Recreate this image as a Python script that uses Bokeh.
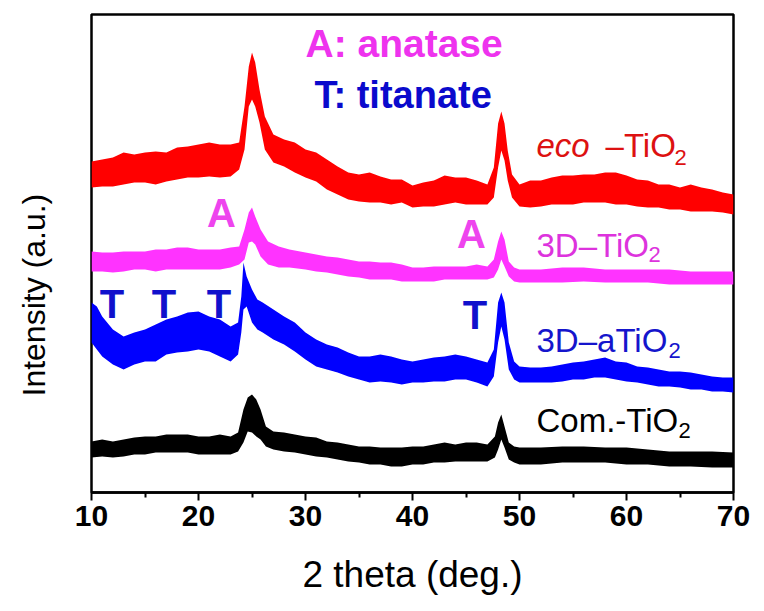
from bokeh.plotting import figure
from bokeh.models import Range1d, Label, FixedTicker, Title
from bokeh.embed import file_html
from bokeh.resources import INLINE

# ---- data (intensity in arbitrary units, traces stacked) ----
x_red = [10, 11, 12, 13, 14, 15, 16, 17, 18, 19, 20, 21, 22, 23,
         23.8, 24.3, 24.7, 25.0, 25.3, 25.7, 26.2,
         27, 28, 29, 30, 31, 32, 33, 34, 35, 36, 37, 38, 39, 40, 41, 42, 43, 44, 45, 46, 47,
         47.6, 48.0, 48.3, 48.6, 48.9, 49.3,
         50, 51, 52, 53, 54, 55, 56, 57, 58, 59, 60, 61, 62, 63, 64, 65, 66, 67, 68, 69, 70]
red_hi = [331, 333, 335, 340, 338, 340, 341, 340, 345, 346, 348, 350, 348, 348,
          350, 386, 426, 440, 430, 403, 376,
          358, 353, 350, 343, 340, 333, 326, 320, 318, 320, 316, 313, 313, 307, 310, 312, 317, 315, 315, 312, 308,
          325, 369, 381, 369, 342, 318,
          308, 312, 312, 315, 317, 317, 318, 318, 320, 320, 317, 313, 312, 308, 308, 305, 308, 305, 303, 300, 298]
red_lo = [305, 306, 306, 308, 310, 310, 308, 311, 313, 315, 315, 316, 315, 316,
          323, 343, 386, 393, 386, 370, 343,
          330, 326, 320, 315, 311, 303, 298, 293, 291, 290, 290, 288, 290, 285, 286, 286, 288, 290, 288, 288, 288,
          295, 325, 342, 332, 312, 295,
          286, 285, 286, 288, 288, 288, 290, 290, 290, 288, 288, 286, 285, 285, 283, 283, 281, 281, 281, 280, 278]

x_mag = [10, 11, 12, 13, 14, 15, 16, 17, 18, 19, 20, 21, 22, 23,
         23.8, 24.3, 24.7, 25.0, 25.3, 25.8, 26.5, 27.5, 28.5,
         30, 31, 32, 33, 34, 35, 36, 37, 38, 39, 40, 41, 42, 43, 44, 45, 46, 47,
         47.6, 48.0, 48.3, 48.6, 49.0, 49.5,
         50, 52, 54, 56, 58, 60, 62, 64, 66, 68, 70]
mag_hi = [241, 240, 240, 241, 241, 241, 243, 243, 245, 245, 243, 243, 243, 245,
          246, 263, 280, 285, 276, 263, 251, 246, 243,
          240, 238, 236, 235, 233, 231, 231, 230, 230, 228, 225, 225, 226, 226, 226, 226, 228, 226,
          233, 251, 261, 253, 231, 225,
          223, 223, 225, 225, 223, 223, 223, 223, 221, 221, 221]
mag_lo = [221, 221, 220, 221, 223, 223, 221, 223, 223, 223, 223, 223, 223, 225,
          228, 233, 250, 251, 248, 236, 228, 225, 225,
          223, 221, 220, 218, 216, 215, 213, 213, 213, 211, 211, 211, 211, 213, 213, 213, 213, 213,
          215, 223, 233, 226, 216, 211,
          210, 210, 210, 211, 210, 210, 210, 208, 208, 208, 208]

x_blue = [10, 10.5, 11, 12, 13, 14, 15, 16, 17, 18, 19, 20, 21, 22, 23,
          23.7, 24.0, 24.2, 24.5, 25.0, 25.5, 26,
          27, 28, 29, 30, 31, 32, 33, 34, 35, 36, 37, 38, 39, 40, 41, 42, 43, 44, 45, 46, 47,
          47.6, 48.0, 48.3, 48.6, 49.0, 49.5,
          50, 51, 52, 53, 54, 55, 56, 57, 58, 59, 60, 61, 62, 63, 64, 65, 66, 67, 68, 69, 70]
blue_hi = [190, 186, 176, 163, 156, 160, 163, 168, 173, 176, 180, 181, 176, 173, 166,
           170, 196, 230, 216, 203, 193, 190,
           183, 176, 170, 160, 153, 148, 145, 140, 136, 136, 138, 136, 133, 131, 133, 135, 136, 138, 136, 133, 130,
           143, 190, 200, 190, 150, 131,
           126, 125, 125, 126, 128, 130, 131, 133, 135, 131, 130, 126, 125, 123, 121, 121, 120, 118, 116, 115, 115]
blue_lo = [150, 143, 136, 128, 123, 128, 131, 131, 138, 140, 141, 143, 141, 136, 131,
           138, 160, 183, 186, 170, 163, 160,
           153, 148, 141, 133, 126, 123, 120, 116, 113, 110, 111, 110, 108, 110, 110, 111, 111, 113, 113, 110, 106,
           116, 150, 166, 153, 123, 113,
           110, 110, 110, 110, 111, 113, 113, 115, 115, 113, 111, 110, 108, 106, 106, 105, 103, 103, 101, 101, 100]

x_blk = [10, 11, 12, 13, 14, 15, 16, 17, 18, 19, 20, 21, 22, 23,
         23.7, 24.2, 24.6, 25.0, 25.4, 25.8, 26.3,
         27, 28, 29, 30, 31, 32, 33, 34, 35, 36, 37, 38, 39, 40, 41, 42, 43, 44, 45, 46, 47,
         47.7, 48.0, 48.3, 48.6, 49.0, 49.5,
         50, 52, 54, 56, 58, 60, 62, 64, 66, 68, 70]
blk_hi = [51, 53, 51, 53, 55, 56, 56, 58, 58, 58, 56, 56, 58, 56,
          60, 83, 95, 98, 93, 83, 66,
          61, 60, 58, 56, 55, 51, 50, 48, 46, 46, 45, 45, 45, 46, 46, 48, 50, 48, 50, 50, 48,
          56, 70, 78, 66, 50, 46,
          45, 45, 46, 46, 45, 45, 43, 41, 41, 41, 40]
blk_lo = [35, 36, 35, 36, 38, 38, 40, 40, 40, 40, 38, 38, 38, 38,
          41, 50, 61, 60, 56, 53, 46,
          43, 41, 40, 38, 36, 35, 33, 31, 30, 28, 28, 26, 26, 28, 28, 30, 30, 31, 31, 31, 31,
          35, 43, 53, 45, 33, 30,
          28, 28, 30, 30, 30, 28, 28, 26, 26, 25, 25]

x_ticks = [10, 20, 30, 40, 50, 60, 70]
x_minor = [15, 25, 35, 45, 55, 65]

FONT = "Liberation Sans"
RED, MAG, BLUE, BLK = "#ff0000", "#ff33ff", "#0000ff", "#000000"

p = figure(output_backend="svg", toolbar_location=None,
           frame_width=642, frame_height=478,
           min_border_left=91, min_border_right=28, min_border_top=14, min_border_bottom=110,
           x_range=Range1d(10, 70), y_range=Range1d(0, 478))
p.background_fill_color = "white"
p.border_fill_color = "white"
p.grid.visible = False
p.outline_line_color = "black"
p.outline_line_width = 2.5

p.varea(x=x_red, y1=red_lo, y2=red_hi, fill_color=RED)
p.varea(x=x_mag, y1=mag_lo, y2=mag_hi, fill_color=MAG)
p.varea(x=x_blue, y1=blue_lo, y2=blue_hi, fill_color=BLUE)
p.varea(x=x_blk, y1=blk_lo, y2=blk_hi, fill_color=BLK)

# y axis: one invisible tick used only as a spacer, so the title sits further out
yax = p.yaxis[0]
yax.ticker = FixedTicker(ticks=[0])
yax.major_label_overrides = {0: ""}
yax.axis_line_color = None
yax.major_tick_line_color = None
yax.minor_tick_line_color = None
yax.major_tick_in = 0
yax.major_tick_out = 38
yax.minor_tick_in = 0
yax.minor_tick_out = 0
yax.major_label_standoff = 0

p.add_layout(Title(text="Intensity (a.u.)", align="left", offset=96, standoff=4,
                   text_font=FONT, text_font_size="32px", text_font_style="normal",
                   text_color="black"), "left")

ax = p.xaxis[0]
ax.ticker = FixedTicker(ticks=x_ticks, minor_ticks=x_minor)
ax.axis_line_width = 2.5
ax.major_tick_line_width = 2
ax.minor_tick_line_width = 2
ax.major_tick_in = 0
ax.major_tick_out = 8
ax.minor_tick_in = 0
ax.minor_tick_out = 5
ax.major_label_text_font = FONT
ax.major_label_text_font_style = "bold"
ax.major_label_text_font_size = "30px"
ax.major_label_text_color = "black"
ax.major_label_standoff = 5
ax.axis_label = "2 theta (deg.)"
ax.axis_label_text_font = FONT
ax.axis_label_text_font_style = "normal"
ax.axis_label_text_font_size = "37px"
ax.axis_label_text_color = "black"
ax.axis_label_standoff = 25


def lab(x, y, t, color, size, style="normal", align="left", baseline="alphabetic"):
    p.add_layout(Label(x=x, y=y, text=t, text_color=color, text_font=FONT,
                       text_font_size=f"{size}px", text_font_style=style,
                       text_align=align, text_baseline=baseline))


# legend texts
lab(30.0, 449, "A: anatase", "#ee33ee", 39, "bold")
lab(30.84, 398, "T: titanate", "#0a0acc", 38, "bold")

# sample labels
lab(51.59, 347, "eco", "#dd1111", 33, "italic")
lab(58.04, 347, "\u2013TiO", "#dd1111", 33)
lab(64.49, 335, "2", "#dd1111", 22)
lab(51.59, 247, "3D\u2013TiO", "#dd33dd", 33)
lab(62.06, 238, "2", "#dd33dd", 22)
lab(51.59, 152, "3D\u2013aTiO", "#1515cc", 33)
lab(63.93, 142, "2", "#1515cc", 22)
lab(51.59, 72, "Com.-TiO", "black", 33)
lab(64.86, 62, "2", "black", 22)

# phase markers
lab(22.15, 280, "A", "#ee44ee", 40, "bold", align="center")
lab(45.51, 259, "A", "#ee44ee", 40, "bold", align="center")
for tx, ty in [(11.92, 189), (16.78, 189), (21.92, 189), (45.84, 178)]:
    lab(tx, ty, "T", "#1010cc", 40, "bold", align="center")

open("out.html", "w").write(file_html(p, INLINE))
